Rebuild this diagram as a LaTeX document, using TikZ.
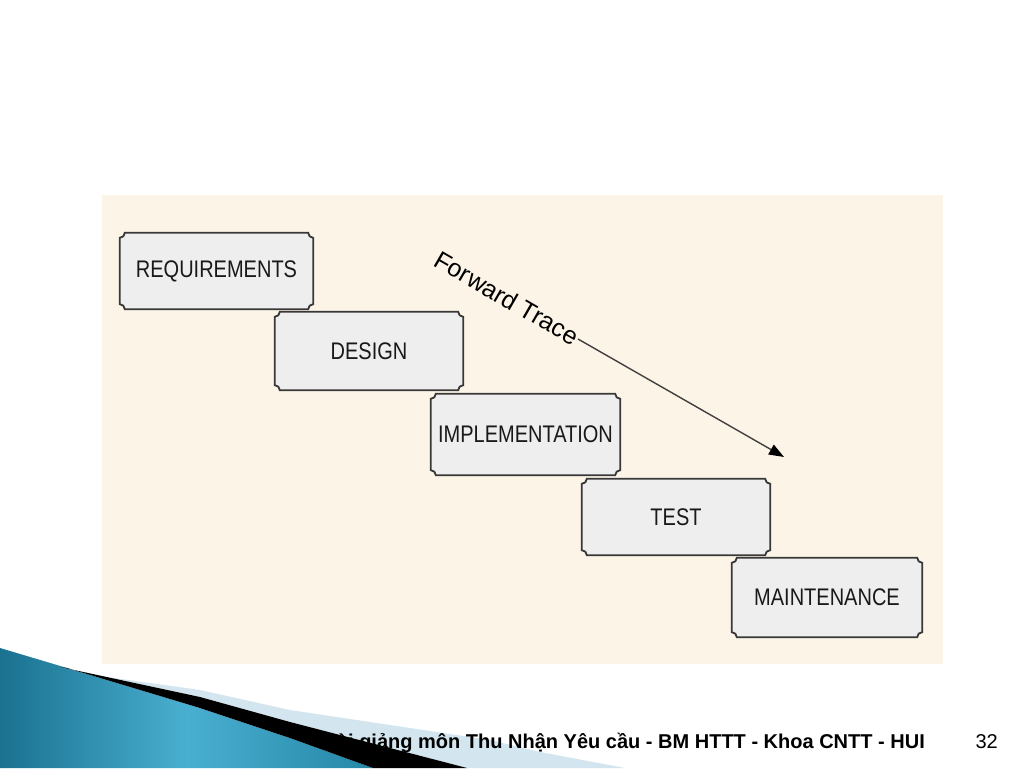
\documentclass[tikz,border=0pt]{standalone}
\usepackage{fontspec}
\setmainfont{Liberation Sans}
\usetikzlibrary{arrows.meta,calc}
\definecolor{panel}{HTML}{FCF4E6}
\definecolor{boxfill}{HTML}{EEEEEE}
\definecolor{boxline}{HTML}{383838}
\definecolor{tealA}{HTML}{1A7190}
\definecolor{tealB}{HTML}{49AFD0}
\definecolor{tealC}{HTML}{2587A8}
\definecolor{paleblue}{HTML}{D3E5EE}
\definecolor{arrowgray}{HTML}{404040}
\newcommand\notchframe[1]{%
  \draw[frame] ([xshift=5pt]#1.north west) -- ([xshift=-5pt]#1.north east)
    arc[start angle=180,end angle=270,radius=5pt]
    -- ([yshift=5pt]#1.south east)
    arc[start angle=90,end angle=180,radius=5pt]
    -- ([xshift=5pt]#1.south west)
    arc[start angle=0,end angle=90,radius=5pt]
    -- ([yshift=-5pt]#1.north west)
    arc[start angle=270,end angle=360,radius=5pt] -- cycle;
}
\tikzset{
  stagetext/.style={inner sep=0pt, minimum width=190pt, minimum height=78pt,
    font=\fontsize{20}{24}\selectfont, text=black!90},
  frame/.style={draw=boxline, line width=1.8pt, fill=boxfill},
  tracelabel/.style={font=\fontsize{25}{30}\selectfont, inner sep=1pt, rotate=-30, anchor=east},
  tracearrow/.style={draw=arrowgray, line width=1.4pt, -{Triangle[length=15pt,width=11pt,black]}},
  footer/.style={font=\fontsize{20}{24}\selectfont, inner sep=0pt, anchor=base east}
}
\begin{document}
\begin{tikzpicture}[x=1pt,y=1pt]
\useasboundingbox (0,0) rectangle (1024,768);
\fill[white] (0,0) rectangle (1024,768);
% panel
\fill[panel] (102,104) rectangle (943,573);
% stage nodes (y-up = 768 - y)
\node[stagetext, minimum width=193pt, minimum height=76pt] (req) at (216.5,497) {};
\node[stagetext, minimum width=188pt, minimum height=78pt] (des) at (369,417) {};
\node[stagetext, minimum width=189pt, minimum height=81pt] (imp) at (525.5,333.5) {};
\node[stagetext, minimum width=188pt, minimum height=76pt] (tst) at (676,251) {};
\node[stagetext, minimum width=190pt, minimum height=79pt] (mnt) at (827,170.5) {};
\notchframe{req}\notchframe{des}\notchframe{imp}\notchframe{tst}\notchframe{mnt}
\node[stagetext] at (req.center) {\scalebox{1}[1.2]{REQUIREMENTS}};
\node[stagetext] at (des.center) {\scalebox{1}[1.2]{DESIGN}};
\node[stagetext] at (imp.center) {\scalebox{1}[1.2]{IMPLEMENTATION}};
\node[stagetext] at (tst.center) {\scalebox{1}[1.2]{TEST}};
\node[stagetext] at (mnt.center) {\scalebox{1}[1.2]{MAINTENANCE}};
% forward trace
\node[tracelabel] (ft) at (578,429) {Forward Trace};
\coordinate (tip) at (784,311);
\draw[tracearrow] (ft.east) -- (tip);
% footer swoosh
\shade[left color=tealA, right color=tealC, middle color=tealB]
  (0,0) -- (0,120) -- (67,100) -- (200,60) -- (290,30) -- (373,0) -- cycle;
\fill[paleblue] (100,92) -- (200,78) -- (290,58) -- (490,28) -- (540,16) -- (625,0) -- (467,0)
  -- (290,46) -- (200,71) -- (60,101) -- cycle;
\fill[black] (60,101) -- (200,71) -- (290,46) -- (467,0) -- (373,0)
  -- (290,30) -- (200,60) -- (67,100) -- cycle;
% footer texts
\node[footer, font=\fontsize{20}{24}\selectfont\bfseries] (foot) at (925,20) {Bài giảng môn Thu Nhận Yêu cầu - BM HTTT - Khoa CNTT - HUI};
\node[footer] (pg) at (998,20) {32};
\end{tikzpicture}
\end{document}
